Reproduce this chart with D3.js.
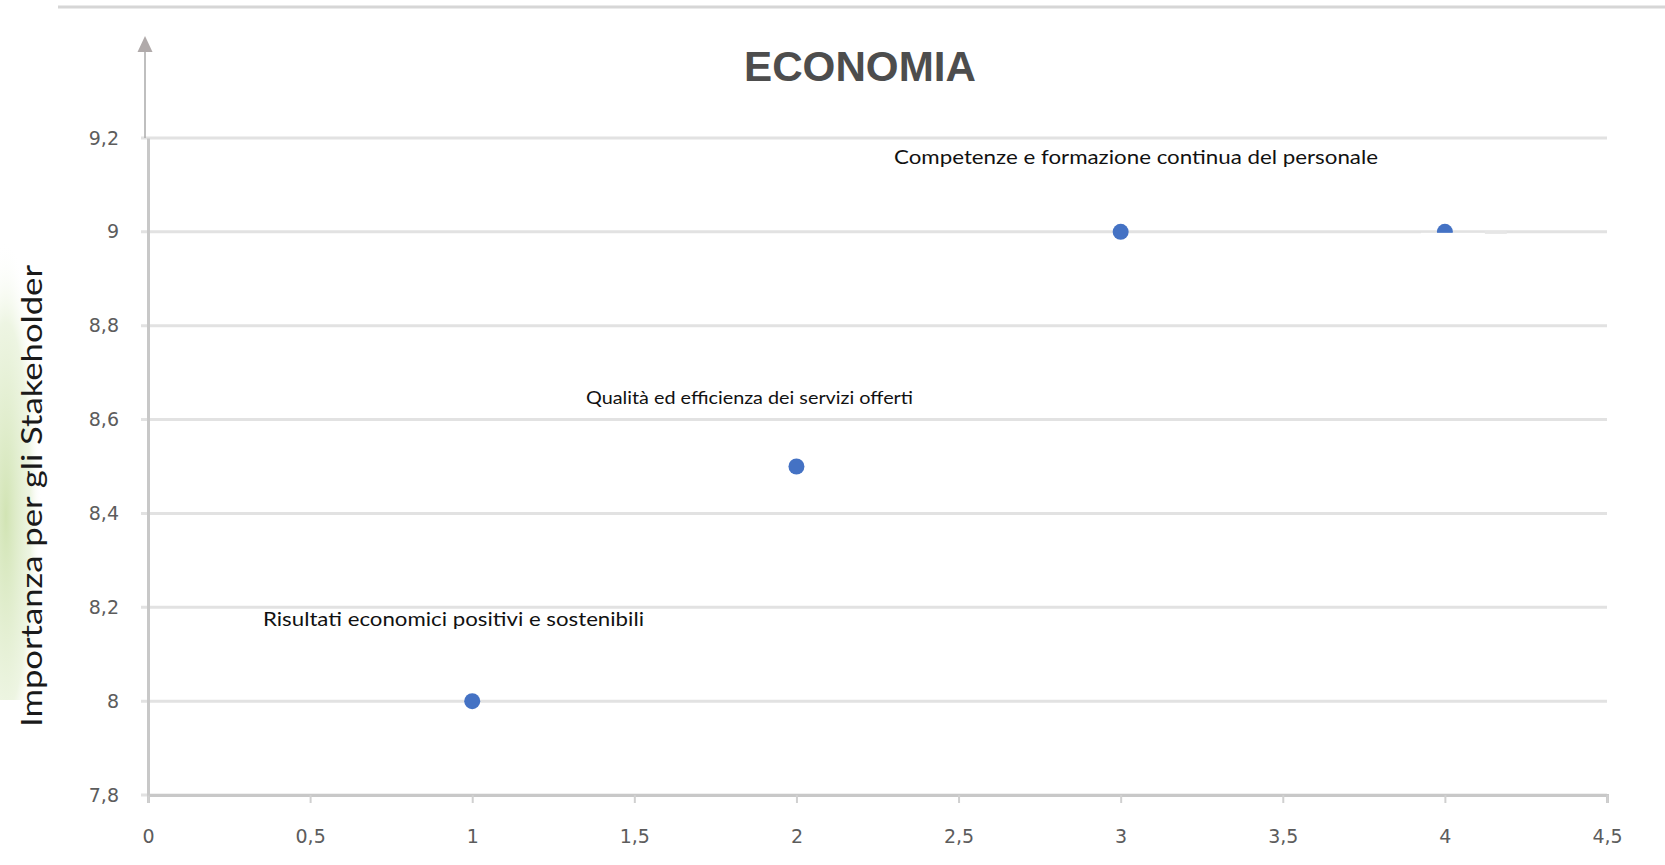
<!DOCTYPE html>
<html>
<head>
<meta charset="utf-8">
<script src="https://cdn.jsdelivr.net/npm/d3@7"></script>
<style>
   body { margin: 0; background: #fff; }
   svg { display: block; }
</style>
</head>
<body>
<script>
// dati del grafico
const titolo = 'ECONOMIA';
const titoloAsseY = 'Importanza per gli Stakeholder';
const xValori = [1, 2, 3, 4];
const yValori = [8, 8.5, 9, 9];
const etichette = ['Risultati economici positivi e sostenibili', 'Qualità ed efficienza dei servizi offerti', 'Competenze e formazione continua del personale', ''];
const xTicks = [0, 0.5, 1, 1.5, 2, 2.5, 3, 3.5, 4, 4.5];
const yTicks = [7.8, 8, 8.2, 8.4, 8.6, 8.8, 9, 9.2];

const width = 1665, height = 865;
const margin = {left: 148, right: 58, top: 138, bottom: 70};

const svg = d3.select('body').append('svg')
   .attr('width', width)
   .attr('height', height);

// sfondo verde sbiadito a sinistra
const defs = svg.append('defs');
const grad = defs.append('radialGradient').attr('id', 'verde')
   .attr('cx', 0.1).attr('cy', 0.6).attr('r', 0.6);
grad.append('stop').attr('offset', '0%').attr('stop-color', '#c9dfa6').attr('stop-opacity', 0.85);
grad.append('stop').attr('offset', '70%').attr('stop-color', '#dcebc6').attr('stop-opacity', 0.5);
grad.append('stop').attr('offset', '100%').attr('stop-color', '#ffffff').attr('stop-opacity', 0);
svg.append('rect').attr('x', 0).attr('y', 240).attr('width', 59).attr('height', 460).attr('fill', 'url(#verde)');

// linea superiore
svg.append('line')
   .attr('x1', 58).attr('x2', width)
   .attr('y1', 7).attr('y2', 7)
   .attr('stroke', '#d6d6d6').attr('stroke-width', 3);

const x = d3.scaleLinear()
   .domain([0, 4.5])
   .range([margin.left, width - margin.right]);
const y = d3.scaleLinear()
   .domain([7.8, 9.2])
   .range([height - margin.bottom, margin.top]);

// griglia orizzontale
svg.append('g')
   .selectAll('line')
   .data(yTicks)
   .enter().append('line')
   .attr('x1', x(0) - 7).attr('x2', x(4.5))
   .attr('y1', d => y(d)).attr('y2', d => y(d))
   .attr('stroke', '#e2e2e2').attr('stroke-width', 3);

// asse x
const fmt = d => String(d).replace('.', ',');
const xAxis = svg.append('g')
   .attr('transform', 'translate(0,' + y(7.8) + ')')
   .call(d3.axisBottom(x).tickValues(xTicks).tickFormat(fmt).tickSize(8).tickPadding(27));
xAxis.select('.domain').attr('stroke', '#c8c8c8').attr('stroke-width', 3);
xAxis.selectAll('.tick line').attr('stroke', '#d0d0d0').attr('stroke-width', 2);
xAxis.selectAll('text').attr('fill', '#5c5c5c').attr('font-family', 'DejaVu Sans').attr('font-size', 19);

// asse y
const yAxis = svg.append('g')
   .attr('transform', 'translate(' + x(0) + ',0)')
   .call(d3.axisLeft(y).tickValues(yTicks).tickFormat(fmt).tickSize(0).tickPadding(29));
yAxis.select('.domain').attr('stroke', '#c8c8c8').attr('stroke-width', 3);
yAxis.selectAll('text').attr('fill', '#5c5c5c').attr('font-family', 'DejaVu Sans').attr('font-size', 19);

// freccia asse y
svg.append('line')
   .attr('x1', x(0) - 3).attr('x2', x(0) - 3)
   .attr('y1', y(9.2)).attr('y2', 50)
   .attr('stroke', '#aaa').attr('stroke-width', 1.5);
svg.append('path')
   .attr('d', 'M' + (x(0) - 3) + ',36 l-7.5,16 l15,0 z')
   .attr('fill', '#b0aaaa');

// punti
svg.append('g')
   .selectAll('circle')
   .data(xValori)
   .enter().append('circle')
   .attr('cx', d => x(d))
   .attr('cy', (d, i) => y(yValori[i]))
   .attr('r', 8)
   .attr('fill', '#4472c4');

// il punto a x=4 è coperto in parte
svg.append('rect')
   .attr('x', x(4) - 24).attr('y', y(9) + 1)
   .attr('width', 64).attr('height', 13)
   .attr('fill', '#fff');
svg.append('rect')
   .attr('x', x(4) + 40).attr('y', y(9) - 1)
   .attr('width', 22).attr('height', 3)
   .attr('fill', '#e6e6e6');

// etichette dei punti
const posEtichette = [[263, 619, 381, 19], [586, 397, 327, 17], [894, 157, 484, 19]];
svg.append('g')
   .selectAll('text')
   .data(etichette.filter(d => d))
   .enter().append('text')
   .attr('x', (d, i) => posEtichette[i][0])
   .attr('y', (d, i) => posEtichette[i][1] + 7)
   .attr('textLength', (d, i) => posEtichette[i][2])
   .attr('lengthAdjust', 'spacingAndGlyphs')
   .attr('font-family', 'Lato')
   .attr('font-size', (d, i) => posEtichette[i][3])
   .attr('fill', '#111')
   .text(d => d);

// titolo
svg.append('text')
   .attr('x', 860).attr('y', 81)
   .attr('text-anchor', 'middle')
   .attr('font-family', 'Liberation Sans Narrow, Liberation Sans')
   .attr('font-weight', 'bold')
   .attr('font-size', 42)
   .attr('textLength', 232)
   .attr('lengthAdjust', 'spacingAndGlyphs')
   .attr('fill', '#4d4d4d')
   .text(titolo);

// titolo asse y
svg.append('text')
   .attr('transform', 'translate(42,' + 496 + ') rotate(-90)')
   .attr('text-anchor', 'middle')
   .attr('font-family', 'Lato')
   .attr('font-size', 29)
   .attr('textLength', 462)
   .attr('lengthAdjust', 'spacingAndGlyphs')
   .attr('fill', '#1a1a1a')
   .text(titoloAsseY);
</script>
</body>
</html>
